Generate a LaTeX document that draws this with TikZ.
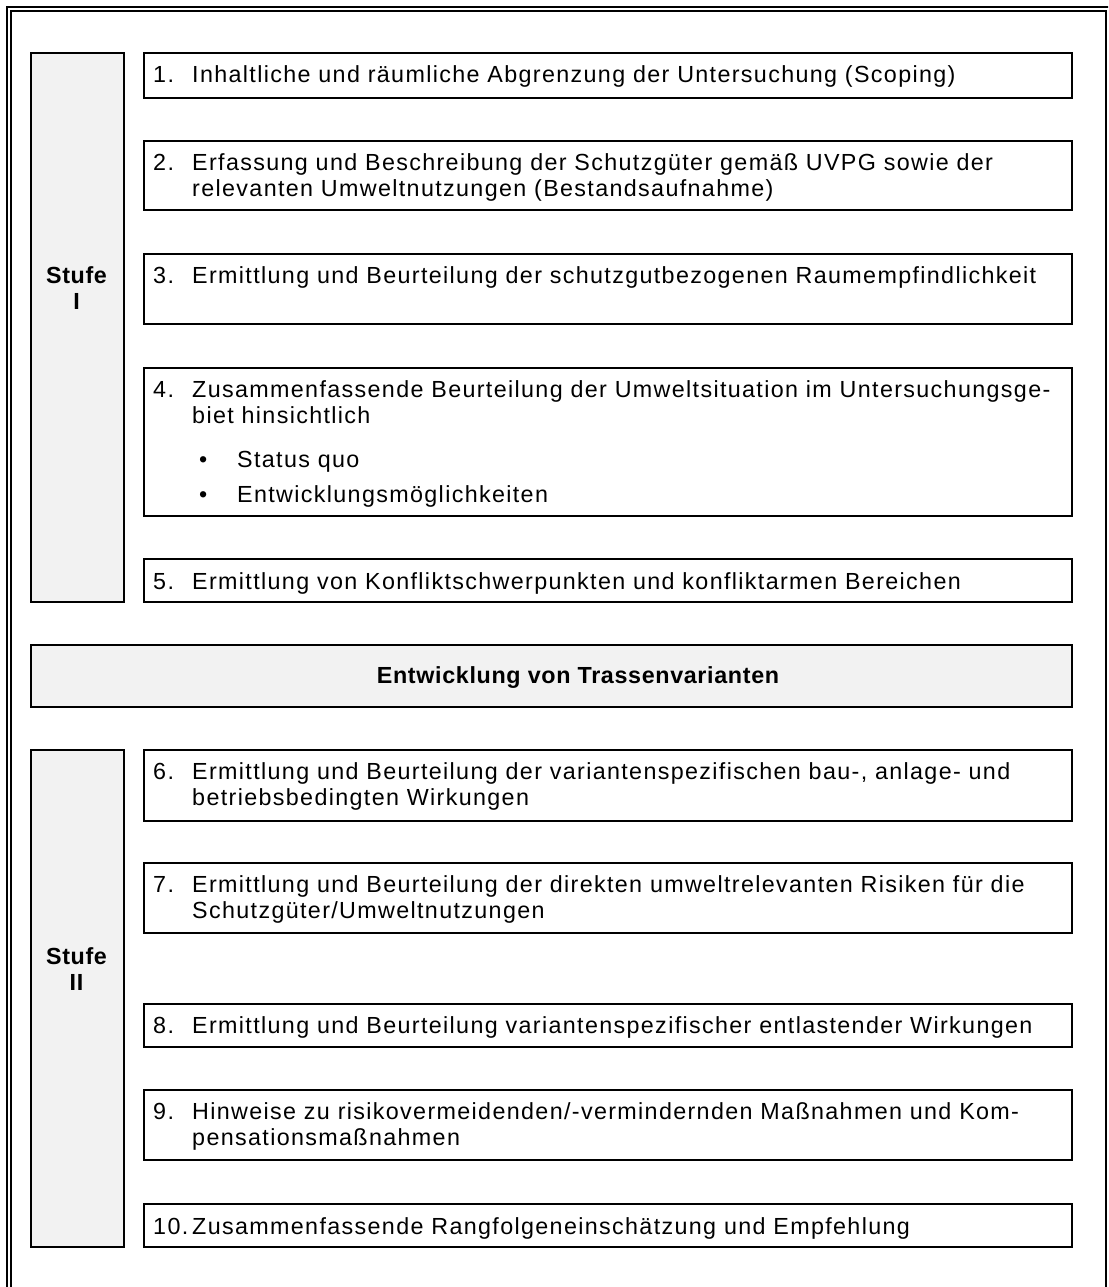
\documentclass[tikz,border=0pt]{standalone}
\usepackage{fontspec}
\setmainfont{Liberation Sans}[LetterSpace=5.8, BoldFeatures={LetterSpace=2.8}]
\usetikzlibrary{calc}
\definecolor{cellgray}{HTML}{F2F2F2}
\newcommand\itemfont{\fontsize{23.3}{26.5}\selectfont}
\newcommand\nb[1]{\makebox[39pt][l]{#1}}
\tikzset{
  boxline/.style={draw=black, line width=2pt},
  itembox/.style={boxline, rectangle, anchor=north west, inner sep=0pt, minimum width=928pt},
  stufebox/.style={boxline, fill=cellgray, rectangle, anchor=north west, inner sep=0pt, minimum width=93pt},
  txt/.style={anchor=base west, inner sep=0pt, font=\itemfont},
  stufetxt/.style={anchor=base, inner sep=0pt, font=\itemfont\bfseries},
  frameline/.style={draw=black, line width=2pt},
}
\begin{document}
\begin{tikzpicture}[x=1pt,y=-1pt]
\useasboundingbox (0,0) rectangle (1108,1287);
\clip (0,0) rectangle (1108,1287);
% outer double frame
\draw[frameline] (7,7) rectangle (1111,1300);
\draw[frameline] (11,11) rectangle (1106,1296);

% Stufe boxes
\node[stufebox, minimum height=549pt] (s1) at (30,52) {};
\node[stufebox, minimum height=497pt] (s2) at (30,749) {};
\node[stufetxt] (s1t) at (76.5,283) {\begin{tabular}[t]{@{}c@{}}Stufe\\I\end{tabular}};
\node[stufetxt] (s2t) at (76.5,964) {\begin{tabular}[t]{@{}c@{}}Stufe\\II\end{tabular}};

% item boxes Stufe I
\node[itembox, minimum height=45pt] (b1) at (143,52) {};
\node[itembox, minimum height=69pt] (b2) at (143,140) {};
\node[itembox, minimum height=70pt] (b3) at (143,253) {};
\node[itembox, minimum height=148pt] (b4) at (143,367) {};
\node[itembox, minimum height=43pt] (b5) at (143,558) {};

\node[txt] (t1) at ($(b1.north west)+(10,31)$) {\nb{1.}Inhaltliche und räumliche Abgrenzung der Untersuchung (Scoping)};
\node[txt] (t2) at ($(b2.north west)+(10,30)$) {\begin{tabular}[t]{@{}l@{}l@{}}\nb{2.}&Erfassung und Beschreibung der Schutzgüter gemäß UVPG sowie der\\ &relevanten Umweltnutzungen (Bestandsaufnahme)\end{tabular}};
\node[txt] (t3) at ($(b3.north west)+(10,30)$) {\nb{3.}Ermittlung und Beurteilung der schutzgutbezogenen Raumempfindlichkeit};
\node[txt] (t4) at ($(b4.north west)+(10,30)$) {\begin{tabular}[t]{@{}l@{}l@{}}\nb{4.}&Zusammenfassende Beurteilung der Umweltsituation im Untersuchungsge-\\ &biet hinsichtlich\end{tabular}};
\node[txt] (t4a) at (199,467) {\makebox[38pt][l]{\textbullet}Status quo};
\node[txt] (t4b) at (199,502) {\makebox[38pt][l]{\textbullet}Entwicklungsmöglichkeiten};
\node[txt] (t5) at ($(b5.north west)+(10,31)$) {\nb{5.}Ermittlung von Konfliktschwerpunkten und konfliktarmen Bereichen};

% middle bar
\node[boxline, fill=cellgray, rectangle, anchor=north west, inner sep=0pt, minimum width=1041pt, minimum height=62pt] (mid) at (30,644) {};
\node[anchor=base, inner sep=0pt, font=\itemfont\bfseries] (midt) at (578,683) {Entwicklung von Trassenvarianten};

% item boxes Stufe II
\node[itembox, minimum height=71pt] (b6) at (143,749) {};
\node[itembox, minimum height=70pt] (b7) at (143,862) {};
\node[itembox, minimum height=43pt] (b8) at (143,1003) {};
\node[itembox, minimum height=70pt] (b9) at (143,1089) {};
\node[itembox, minimum height=43pt] (b10) at (143,1203) {};

\node[txt] (t6) at ($(b6.north west)+(10,30)$) {\begin{tabular}[t]{@{}l@{}l@{}}\nb{6.}&Ermittlung und Beurteilung der variantenspezifischen bau-, anlage- und\\ &betriebsbedingten Wirkungen\end{tabular}};
\node[txt] (t7) at ($(b7.north west)+(10,30)$) {\begin{tabular}[t]{@{}l@{}l@{}}\nb{7.}&Ermittlung und Beurteilung der direkten umweltrelevanten Risiken für die\\ &Schutzgüter/Umweltnutzungen\end{tabular}};
\node[txt] (t8) at ($(b8.north west)+(10,30)$) {\nb{8.}Ermittlung und Beurteilung variantenspezifischer entlastender Wirkungen};
\node[txt] (t9) at ($(b9.north west)+(10,30)$) {\begin{tabular}[t]{@{}l@{}l@{}}\nb{9.}&Hinweise zu risikovermeidenden/-vermindernden Maßnahmen und Kom-\\ &pensationsmaßnahmen\end{tabular}};
\node[txt] (t10) at ($(b10.north west)+(10,31)$) {\nb{10.}Zusammenfassende Rangfolgeneinschätzung und Empfehlung};
\end{tikzpicture}
\end{document}
